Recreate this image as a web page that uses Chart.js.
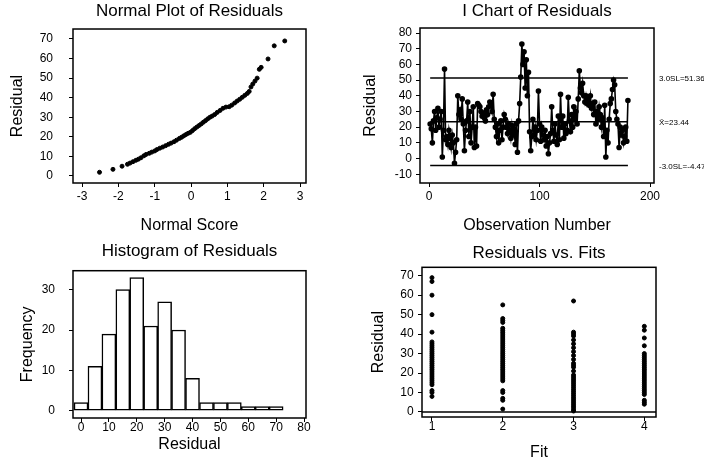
<!DOCTYPE html>
<html>
<head>
<meta charset="utf-8">
<title>Residual Model Diagnostics</title>
<script src="https://cdn.jsdelivr.net/npm/chart.js@4.4.1/dist/chart.umd.min.js"></script>
<style>
  html, body { margin: 0; padding: 0; background: #fff; }
  #wrap { position: relative; width: 704px; height: 466px; }
  #wrap canvas { position: absolute; }
</style>
</head>
<body>
<div id="wrap">
  <canvas id="normalPlot" width="352" height="233" style="left:0;top:0"></canvas>
  <canvas id="iChart" width="352" height="233" style="left:352px;top:0"></canvas>
  <canvas id="histPlot" width="352" height="233" style="left:0;top:233px"></canvas>
  <canvas id="fitsPlot" width="352" height="233" style="left:352px;top:233px"></canvas>
</div>
<script>
const FONT = "'Liberation Sans', Arial, sans-serif";

// --- Normal plot of residuals
const normalScores = [-2.52, -2.15, -1.9, -1.75, -1.68, -1.6, -1.52, -1.45, -1.38, -1.3,
  -1.24, -1.15, -1.08, -1.0, -0.94, -0.86, -0.78, -0.7, -0.62, -0.55,
  -0.47, -0.4, -0.32, -0.26, -0.2, -0.14, -0.08, -0.02, 0.04, 0.1,
  0.16, 0.22, 0.28, 0.34, 0.4, 0.46, 0.52, 0.58, 0.65, 0.72,
  0.8, 0.88, 0.96, 1.05, 1.12, 1.2, 1.27, 1.34, 1.41, 1.48,
  1.55, 1.6, 1.65, 1.7, 1.76, 1.82, 1.88, 1.93, 2.12, 2.29, 2.58];
const normalResiduals = [1.9, 3.4, 5, 6, 6.6, 7.3, 8, 8.6, 9.3, 10.3,
  11, 11.6, 12.2, 12.8, 13.5, 14.2, 14.8, 15.5, 16.2, 16.8,
  17.5, 18.3, 19.2, 19.8, 20.5, 21.2, 21.8, 22.3, 23.2, 24.2,
  25, 25.8, 26.6, 27.5, 28.3, 29.2, 30, 30.6, 31.4, 32.5,
  33.5, 34.6, 35.2, 35.4, 36.2, 37.3, 38.3, 39.2, 40.2, 41.2,
  42.2, 43.2, 45.5, 47, 48.5, 50, 54.5, 55.5, 59.8, 66.5, 69];
const normalXTicks = [-3, -2, -1, 0, 1, 2, 3];
const normalYTicks = [0, 10, 20, 30, 40, 50, 60, 70];

// --- I chart of residuals (observation order)
const iChartValues = [
  22, 19, 10, 24, 30, 18, 26, 32, 20, 25,
  30, 1, 18, 57, 12, 14, 9, 18, 13, 7,
  15, 10, -3, 4, 12, 40, 28, 31, 25, 38,
  22, 5, 18, 24, 36, 14, 30, 10, 20, 33,
  7, 20, 8, 35, 34, 33, 30, 27, 29, 26,
  24, 31, 28, 33, 36, 34, 30, 41, 25, 20,
  14, 22, 10, 18, 24, 12, 20, 28, 25, 20,
  16, 22, 18, 13, 21, 15, 19, 9, 22, 4,
  24, 35, 52, 73, 60, 68, 45, 63, 40, 55,
  17, 5, 14, 25, 15, 20, 12, 18, 43, 22,
  11, 20, 15, 12, 18, 8, 14, 3, 10, 16,
  33, 18, 11, 22, 15, 9, 27, 12, 41, 20,
  27, 13, 22, 16, 18, 39, 24, 17, 28, 20,
  33, 25, 30, 22, 38, 56, 45, 42, 48, 40,
  36, 40, 35, 38, 34, 40, 32, 35, 28, 36,
  22, 30, 25, 33, 28, 20, 26, 14, 34, 1,
  18, 10, 25, 35, 38, 44, 50, 47, 30, 25,
  22, 7, 20, 15, 18, 10, 14, 20, 11, 37];
const iChartLimits = [51.36, 23.44, -4.47];
const iChartLimitLabels = ["3.0SL=51.36", "X\u0304=23.44", "-3.0SL=-4.47"];
const iChartXTicks = [0, 100, 200];
const iChartYTicks = [-10, 0, 10, 20, 30, 40, 50, 60, 70, 80];

// --- Histogram of residuals
const histBins = [0, 5, 10, 15, 20, 25, 30, 35, 40, 45, 50, 55, 60, 65, 70];
const histCounts = [2, 11, 19, 30, 33, 21, 27, 20, 8, 2, 2, 2, 1, 1, 1];
const histXTicks = [0, 10, 20, 30, 40, 50, 60, 70, 80];
const histYTicks = [0, 10, 20, 30];

// --- Residuals vs fits
const fitLevels = [1, 2, 3, 4];
const fitResiduals = [
  [69, 67, 60, 50, 41, 36, 35, 34, 33, 32, 31, 30, 29, 28, 27, 26, 25, 24, 23, 22, 21, 20, 19, 18, 17, 16, 15, 14, 11, 10, 8],
  [55, 48, 47, 46, 43, 42, 41, 40, 39, 38, 37, 36, 35, 34, 33, 32, 31, 30, 29, 28, 27, 26, 25, 24, 23, 22, 21, 20, 19, 18, 17, 16, 11, 10, 7, 6, 1.5],
  [57, 41, 40, 39, 37, 35, 33, 31, 29, 27, 25, 24, 23, 21, 19, 18, 17, 16, 15, 14, 13, 12, 11, 10, 9, 8, 7, 6, 5, 4, 3, 2, 1, 0.5],
  [44, 42, 38, 34, 30, 29, 28, 27, 26, 25, 24, 23, 22, 21, 20, 19, 18, 17, 16, 15, 14, 13, 12, 11, 10, 9, 6, 5, 4],
];
const fitsXTicks = [1, 2, 3, 4];
const fitsYTicks = [0, 10, 20, 30, 40, 50, 60, 70];

// frame round the plot area
const boxPlugin = {
  id: "box",
  afterDraw(chart) {
    const { ctx, chartArea: a } = chart;
    ctx.save();
    ctx.strokeStyle = "#000";
    ctx.lineWidth = 1.5;
    ctx.strokeRect(a.left, a.top, a.right - a.left, a.bottom - a.top);
    ctx.restore();
  },
};

const axis = (o) => ({
  type: "linear",
  min: o.min,
  max: o.max,
  bounds: "data",
  offset: false,
  afterBuildTicks: (s) => { s.ticks = o.ticks.map((v) => ({ value: v })); },
  afterFit: (s) => {
    if (o.width) s.width = o.width;
    if (o.height) s.height = o.height;
  },
  border: { display: false },
  grid: { drawOnChartArea: false, drawTicks: true, tickLength: 4, color: "#000", lineWidth: 1, offset: false },
  ticks: { color: "#000", padding: o.pad, autoSkip: false, maxRotation: 0, font: { family: FONT, size: 12 } },
  title: { display: true, text: o.title, color: "#000", font: { family: FONT, size: 16, lineHeight: 1.125 }, padding: o.titlePad },
});

const baseOptions = (title, tTop, tBottom, right, scales) => ({
  responsive: false,
  animation: false,
  layout: { padding: { left: 0, right, top: 0, bottom: 0 } },
  plugins: {
    legend: { display: false },
    tooltip: { enabled: false },
    title: {
      display: true, text: title, color: "#000", fullSize: false,
      font: { family: FONT, size: 17, weight: "normal", lineHeight: 1.13 },
      padding: { top: tTop, bottom: tBottom },
    },
  },
  scales,
});

// 1. Normal plot
new Chart(document.getElementById("normalPlot").getContext("2d"), {
  type: "scatter",
  data: {
    datasets: [{
      data: normalScores.map((s, i) => ({ x: s, y: normalResiduals[i] })),
      backgroundColor: "#000", borderColor: "#000", pointRadius: 2,
    }],
  },
  options: baseOptions("Normal Plot of Residuals", 2, 7.8, 46, {
    x: axis({ min: -3.25, max: 3.165, ticks: normalXTicks, height: 50, pad: 2.5, title: "Normal Score", titlePad: { top: 0, bottom: -2 } }),
    y: axis({ min: -3.58, max: 75.1, ticks: normalYTicks, width: 73, pad: 16, title: "Residual", titlePad: { top: 9, bottom: 0 } }),
  }),
  plugins: [boxPlugin],
});

// 2. I chart
const limitLabelPlugin = {
  id: "limitLabels",
  afterDraw(chart) {
    const { ctx, chartArea: a, scales } = chart;
    ctx.save();
    ctx.fillStyle = "#000";
    ctx.font = "8px " + FONT;
    ctx.textBaseline = "middle";
    iChartLimits.forEach((v, i) => {
      ctx.fillText(iChartLimitLabels[i], a.right + 5, scales.y.getPixelForValue(v) + 1);
    });
    ctx.restore();
  },
};

new Chart(document.getElementById("iChart").getContext("2d"), {
  type: "line",
  data: {
    datasets: [
      {
        data: iChartValues.map((v, i) => ({ x: i + 1, y: v })),
        borderColor: "#000", backgroundColor: "#000", borderWidth: 1.6,
        pointRadius: 2, tension: 0,
      },
      ...iChartLimits.map((v) => ({
        data: [{ x: 1, y: v }, { x: iChartValues.length, y: v }],
        borderColor: "#000", borderWidth: 1.4, pointRadius: 0,
      })),
    ],
  },
  options: baseOptions("I Chart of Residuals", 2, 6.8, 50, {
    x: axis({ min: -8.2, max: 203.6, ticks: iChartXTicks, height: 50, pad: 2.5, title: "Observation Number", titlePad: { top: 0, bottom: -2 } }),
    y: axis({ min: -15.6, max: 83.2, ticks: iChartYTicks, width: 68, pad: 4, title: "Residual", titlePad: { top: 9.3, bottom: 0 } }),
  }),
  plugins: [boxPlugin, limitLabelPlugin],
});

// 3. Histogram
new Chart(document.getElementById("histPlot").getContext("2d"), {
  type: "bar",
  data: {
    datasets: [{
      data: histBins.map((b, i) => ({ x: b, y: histCounts[i] })),
      backgroundColor: "#fff", borderColor: "#000", borderWidth: 1.5,
      borderSkipped: false, barPercentage: 1, categoryPercentage: 1,
    }],
  },
  options: baseOptions("Histogram of Residuals", 8.7, 9.8, 46, {
    x: axis({ min: -2.87, max: 80.7, ticks: histXTicks, height: 48, pad: -1.5, title: "Residual", titlePad: { top: 0, bottom: 12 } }),
    y: axis({ min: -1.81, max: 34.7, ticks: histYTicks, width: 73, pad: 14, title: "Frequency", titlePad: { top: 19, bottom: 0 } }),
  }),
  plugins: [boxPlugin],
});

// 4. Residuals vs fits
const zeroLinePlugin = {
  id: "zeroLine",
  afterDatasetsDraw(chart) {
    const { ctx, chartArea: a, scales } = chart;
    const y = scales.y.getPixelForValue(0);
    ctx.save();
    ctx.strokeStyle = "#000";
    ctx.lineWidth = 1.5;
    ctx.beginPath();
    ctx.moveTo(a.left, y);
    ctx.lineTo(a.right, y);
    ctx.stroke();
    ctx.restore();
  },
};

new Chart(document.getElementById("fitsPlot").getContext("2d"), {
  type: "scatter",
  data: {
    datasets: fitLevels.map((f, k) => ({
      data: fitResiduals[k].map((r) => ({ x: f, y: r })),
      backgroundColor: "#000", borderColor: "#000", pointRadius: 2,
    })),
  },
  options: baseOptions("Residuals vs. Fits", 10.4, 4.7, 48, {
    x: axis({ min: 0.859, max: 4.165, ticks: fitsXTicks, height: 49, pad: -1.5, title: "Fit", titlePad: { top: 0, bottom: 4 } }),
    y: axis({ min: -2.57, max: 74.3, ticks: fitsYTicks, width: 70, pad: 4.3, title: "Residual", titlePad: { top: 17.7, bottom: 0 } }),
  }),
  plugins: [boxPlugin, zeroLinePlugin],
});
</script>
</body>
</html>
